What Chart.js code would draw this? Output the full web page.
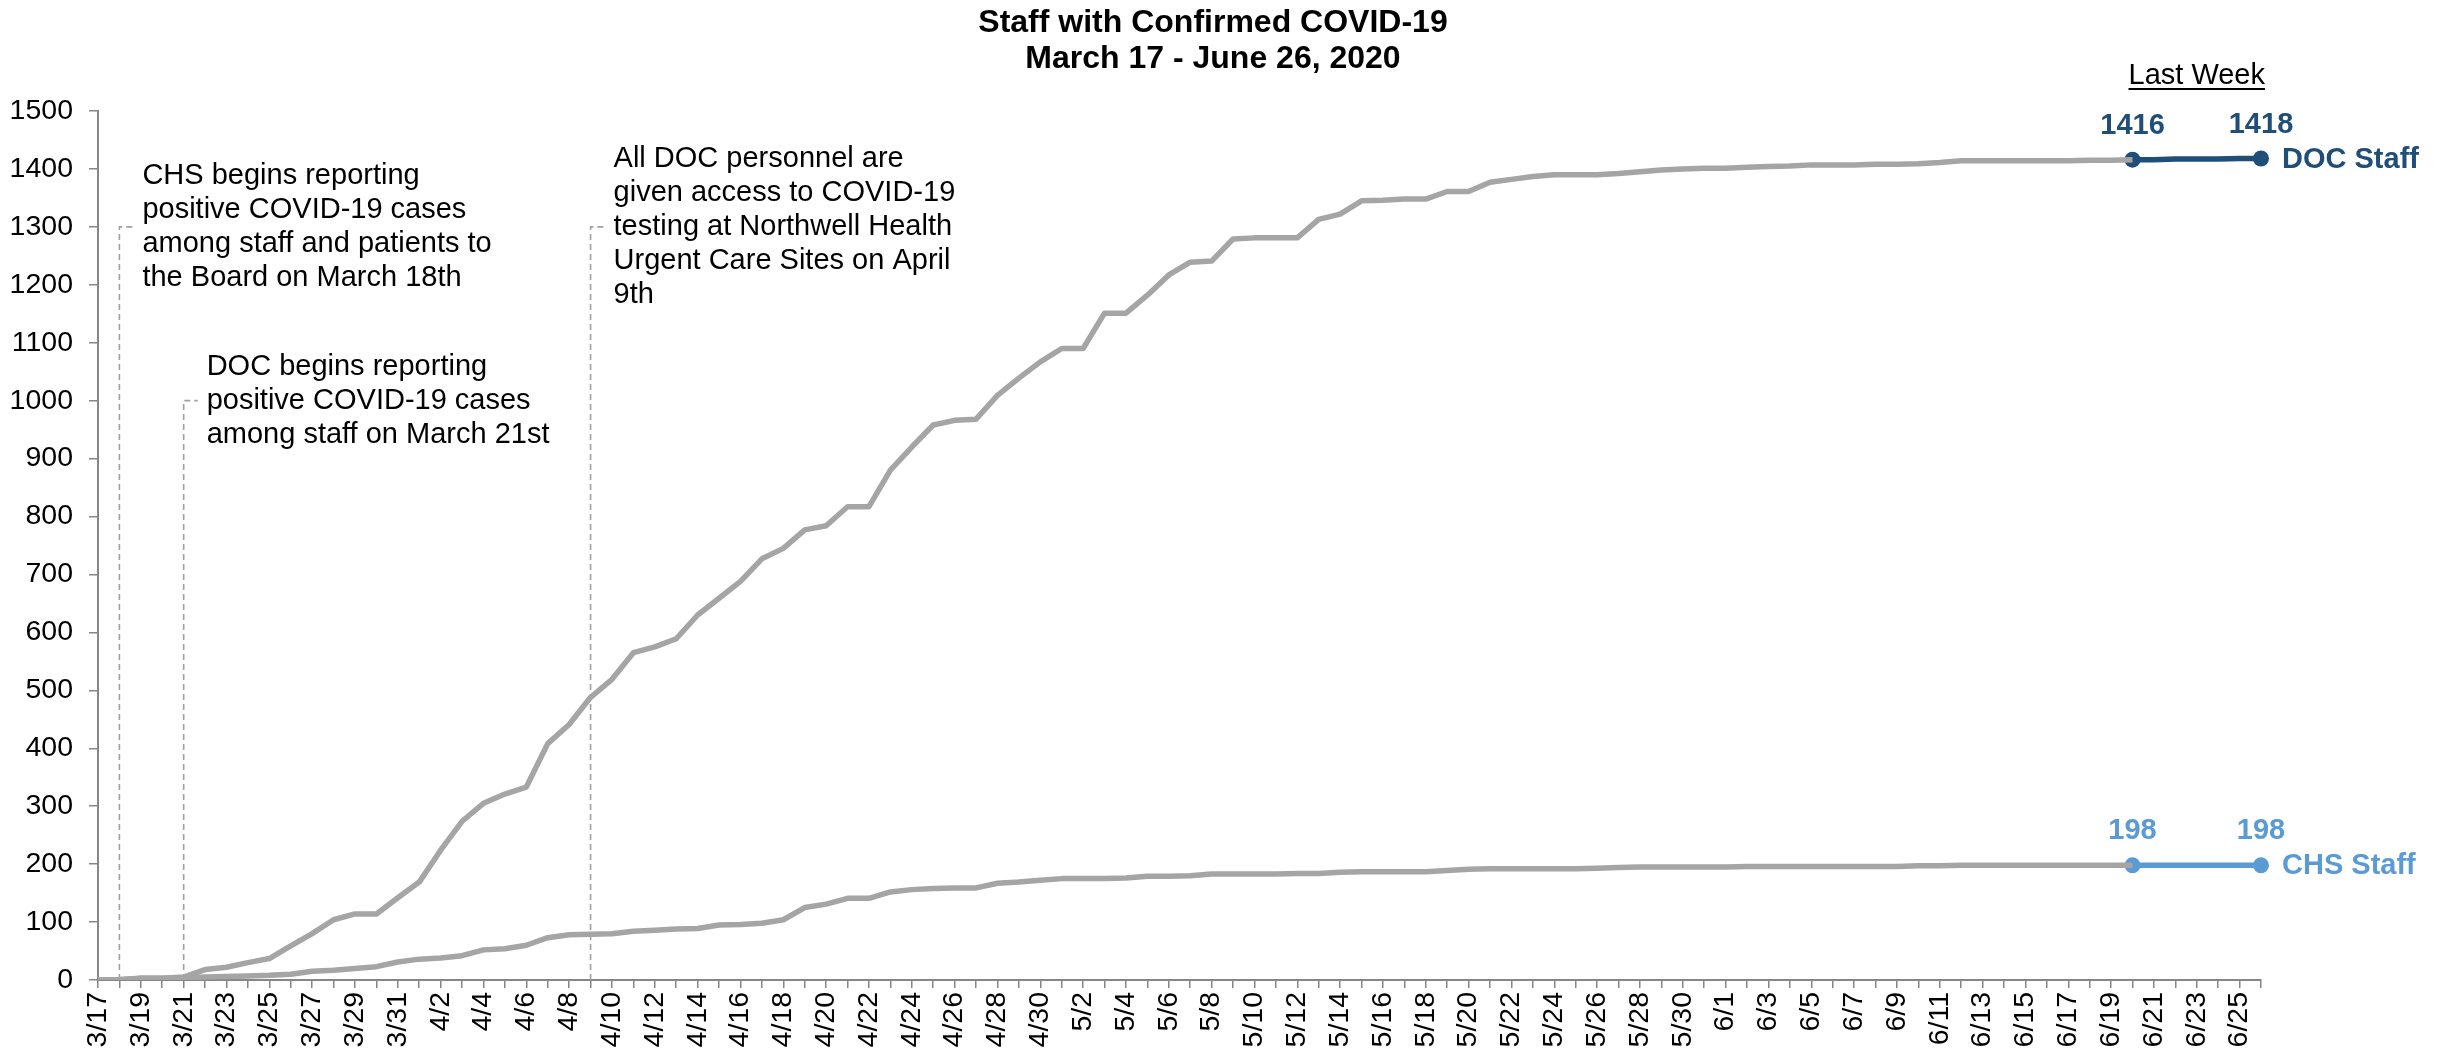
<!DOCTYPE html>
<html>
<head>
<meta charset="utf-8">
<script src="https://cdn.jsdelivr.net/npm/chart.js@4.4.0/dist/chart.umd.min.js"></script>
<style>
html,body{margin:0;padding:0;background:#ffffff;}
#wrap{width:2446px;height:1058px;position:relative;}
</style>
</head>
<body>
<div id="wrap"><canvas id="c"></canvas></div>
<script>
// ---------- DATA ----------
const dates = [
  '3/17','3/18','3/19','3/20','3/21','3/22','3/23','3/24','3/25','3/26','3/27','3/28','3/29','3/30','3/31',
  '4/1','4/2','4/3','4/4','4/5','4/6','4/7','4/8','4/9','4/10','4/11','4/12','4/13','4/14','4/15','4/16','4/17','4/18','4/19','4/20','4/21','4/22','4/23','4/24','4/25','4/26','4/27','4/28','4/29','4/30',
  '5/1','5/2','5/3','5/4','5/5','5/6','5/7','5/8','5/9','5/10','5/11','5/12','5/13','5/14','5/15','5/16','5/17','5/18','5/19','5/20','5/21','5/22','5/23','5/24','5/25','5/26','5/27','5/28','5/29','5/30','5/31',
  '6/1','6/2','6/3','6/4','6/5','6/6','6/7','6/8','6/9','6/10','6/11','6/12','6/13','6/14','6/15','6/16','6/17','6/18','6/19','6/20','6/21','6/22','6/23','6/24','6/25','6/26'
];

// DOC staff, cumulative, 3/17 - 6/20
const docHistory = [
  0,0,3,3,5,18,22,30,37,59,
  80,104,114,114,142,169,224,274,305,321,
  333,408,441,488,519,565,575,589,630,659,
  688,727,745,777,784,817,817,880,920,958,
  966,968,1009,1039,1067,1090,1090,1151,1151,1182,
  1217,1239,1241,1279,1281,1281,1281,1313,1322,1345,
  1346,1348,1348,1361,1361,1377,1382,1387,1390,1390,
  1390,1392,1395,1398,1400,1401,1401,1403,1404,1405,
  1407,1407,1407,1408,1408,1409,1411,1414,1414,1414,
  1414,1414,1414,1415,1415,1416
];
// CHS staff, cumulative, 3/17 - 6/20
const chsHistory = [
  0,1,3,3,4,5,6,7,8,10,
  15,17,20,23,31,36,38,42,52,54,
  60,73,78,79,80,84,86,88,89,95,
  96,98,104,125,131,141,141,152,156,158,
  159,159,167,169,172,175,175,175,176,179,
  179,180,183,183,183,183,184,184,186,187,
  187,187,187,189,191,192,192,192,192,192,
  193,194,195,195,195,195,195,196,196,196,
  196,196,196,196,196,197,197,198,198,198,
  198,198,198,198,198,198
];
// Last week: 6/20 - 6/26
const lastWeekStart = '6/20';
const docLastWeek = [1416,1416,1417,1417,1417,1418,1418];
const chsLastWeek = [198,198,198,198,198,198,198];

const yMin = 0, yMax = 1500, yStep = 100;

const titleLines = ['Staff with Confirmed COVID-19', 'March 17 - June 26, 2020'];
const lastWeekLabel = 'Last Week';
const seriesNames = ['DOC Staff', 'CHS Staff'];

const annotationDates = ['3/18', '3/21', '4/9'];
const annotationLevels = [1300, 1000, 1300];
const annotationTexts = [
  ['CHS begins reporting', 'positive COVID-19 cases', 'among staff and patients to', 'the Board on March 18th'],
  ['DOC begins reporting', 'positive COVID-19 cases', 'among staff on March 21st'],
  ['All DOC personnel are', 'given access to COVID-19', 'testing at Northwell Health', 'Urgent Care Sites on April', '9th']
];

// ---------- STYLE ----------
const GRAY = '#A5A5A5';
const DOC_BLUE = '#1F4E79';
const CHS_BLUE = '#5B9BD5';
const AXIS = '#868686';
const FONT = '"Liberation Sans", Arial, sans-serif';
const LINE_W = 5.5;

// ---------- BUILD DATASETS ----------
const n = dates.length;
const startIdx = dates.indexOf(lastWeekStart);
const padEnd = (arr) => arr.concat(new Array(n - arr.length).fill(null));
const padStart = (arr) => new Array(startIdx).fill(null).concat(arr);
const endpointRadius = (arr, r) => padStart(arr.map((v, i) => (i === 0 || i === arr.length - 1) ? r : 0));

const decor = {
  id: 'decor',
  beforeDatasetsDraw(chart) {
    const ctx = chart.ctx, xs = chart.scales.x, ys = chart.scales.y;
    ctx.save();
    ctx.strokeStyle = '#A0A0A0';
    ctx.lineWidth = 1.6;
    ctx.setLineDash([6, 4]);
    annotationDates.forEach((d, k) => {
      const x = xs.getPixelForValue(dates.indexOf(d));
      const y = ys.getPixelForValue(annotationLevels[k]);
      const y0 = ys.getPixelForValue(0);
      ctx.beginPath();
      ctx.moveTo(x, y0);
      ctx.lineTo(x, y);
      ctx.lineTo(x + 14, y);
      ctx.stroke();
    });
    ctx.restore();
  },
  afterDatasetsDraw(chart) {
    const ctx = chart.ctx, xs = chart.scales.x, ys = chart.scales.y;
    ctx.save();
    // annotation texts
    ctx.fillStyle = '#000';
    ctx.font = '29px ' + FONT;
    ctx.textAlign = 'left';
    ctx.textBaseline = 'middle';
    const lh = 34;
    annotationDates.forEach((d, k) => {
      const x = xs.getPixelForValue(dates.indexOf(d));
      const y = ys.getPixelForValue(annotationLevels[k]);
      const lines = annotationTexts[k];
      const top = y - (lines.length - 1) * lh / 2;
      lines.forEach((t, i) => ctx.fillText(t, x + 23, top + i * lh));
    });
    // title
    ctx.font = 'bold 32px ' + FONT;
    ctx.textAlign = 'center';
    ctx.fillText(titleLines[0], 1213, 23);
    ctx.fillText(titleLines[1], 1213, 59);

    // last week header
    const x1 = xs.getPixelForValue(startIdx);
    const x2 = xs.getPixelForValue(n - 1);
    const cx = (x1 + x2) / 2;
    ctx.font = '29px ' + FONT;
    ctx.fillText(lastWeekLabel, cx, 76);
    const w = ctx.measureText(lastWeekLabel).width;
    ctx.fillRect(cx - w / 2, 88, w, 2);

    // data labels + series labels
    const specs = [
      {ds: 2, color: DOC_BLUE, vals: docLastWeek, name: seriesNames[0]},
      {ds: 3, color: CHS_BLUE, vals: chsLastWeek, name: seriesNames[1]}
    ];
    specs.forEach(s => {
      const meta = chart.getDatasetMeta(s.ds);
      const pFirst = meta.data[startIdx];
      const pLast = meta.data[n - 1];
      ctx.fillStyle = s.color;
      ctx.font = 'bold 29px ' + FONT;
      ctx.textAlign = 'center';
      ctx.textBaseline = 'middle';
      ctx.fillText(String(s.vals[0]), pFirst.x, pFirst.y - 34);
      ctx.fillText(String(s.vals[s.vals.length - 1]), pLast.x, pLast.y - 34);
      ctx.textAlign = 'left';
      ctx.fillText(s.name, pLast.x + 21, pLast.y + 1);
    });
    ctx.restore();
  }
};

new Chart(document.getElementById('c'), {
  type: 'line',
  data: {
    labels: dates,
    datasets: [
      {label: 'DOC Staff history', data: padEnd(docHistory), borderColor: GRAY, borderWidth: LINE_W, pointRadius: 0, tension: 0, borderJoinStyle: 'round'},
      {label: 'CHS Staff history', data: padEnd(chsHistory), borderColor: GRAY, borderWidth: LINE_W, pointRadius: 0, tension: 0, borderJoinStyle: 'round'},
      {label: 'DOC Staff', data: padStart(docLastWeek), borderColor: DOC_BLUE, backgroundColor: DOC_BLUE, borderWidth: LINE_W,
        pointRadius: endpointRadius(docLastWeek, 8), pointBackgroundColor: DOC_BLUE, pointBorderWidth: 0, tension: 0},
      {label: 'CHS Staff', data: padStart(chsLastWeek), borderColor: CHS_BLUE, backgroundColor: CHS_BLUE, borderWidth: LINE_W,
        pointRadius: endpointRadius(chsLastWeek, 8), pointBackgroundColor: CHS_BLUE, pointBorderWidth: 0, tension: 0}
    ]
  },
  options: {
    responsive: true,
    maintainAspectRatio: false,
    animation: false,
    events: [],
    layout: {padding: {left: 0, top: 111, right: 185, bottom: 0}},
    plugins: {legend: {display: false}, tooltip: {enabled: false}, title: {display: false}},
    scales: {
      x: {
        type: 'category',
        offset: false,
        border: {display: true, color: AXIS, width: 2},
        grid: {display: true, drawOnChartArea: false, drawTicks: true, tickLength: 8, color: AXIS, lineWidth: 1.5},
        ticks: {
          autoSkip: false, minRotation: 90, maxRotation: 90, padding: 4,
          color: '#000', font: {family: FONT, size: 28.5},
          callback: (v, i) => (i % 2 === 0 ? dates[i] : '')
        },
        afterFit: (s) => { s.height = 78; }
      },
      y: {
        min: yMin, max: yMax,
        border: {display: true, color: AXIS, width: 2},
        grid: {display: true, drawOnChartArea: false, drawTicks: true, tickLength: 9, color: AXIS, lineWidth: 1.5},
        ticks: {stepSize: yStep, padding: 16, color: '#000', font: {family: FONT, size: 28.5},
          callback: (v) => String(v)},
        afterFit: (s) => { s.width = 98; }
      }
    }
  },
  plugins: [decor]
});
</script>
</body>
</html>
